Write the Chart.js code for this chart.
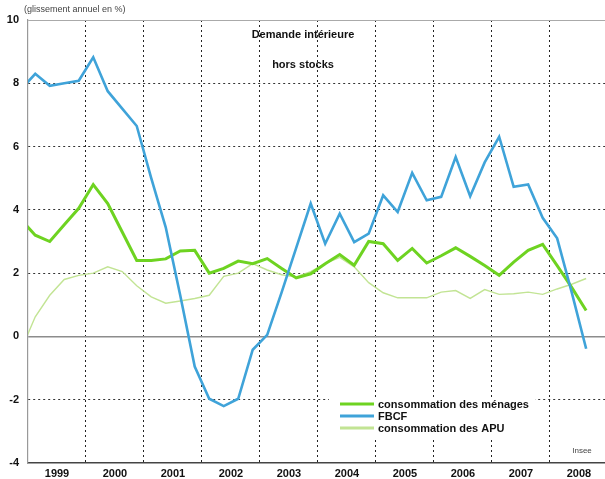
<!DOCTYPE html>
<html>
<head>
<meta charset="utf-8">
<script src="https://cdn.jsdelivr.net/npm/chart.js"></script>
<style>
  html, body { margin: 0; padding: 0; background: #fff; }
</style>
</head>
<body>
<canvas id="graphique" width="605" height="479"></canvas>
<script>
// libellés des années (axe x)
const annees = ['1999', '2000', '2001', '2002', '2003', '2004', '2005', '2006', '2007', '2008'];

// trimestres de 1998-T4 à 2008-T3
const trimestres = [];
for (let a = 1998; a <= 2008; a++) {
    for (let t = 1; t <= 4; t++) {
        if ((a === 1998 && t < 4) || (a === 2008 && t > 3)) continue;
        trimestres.push(a + '-T' + t);
    }
}

// glissement annuel en %
const menages = [3.7, 3.2, 3.0, 3.53, 4.05, 4.8, 4.2, 3.3, 2.4, 2.4,
    2.45, 2.7, 2.72, 2.0, 2.15, 2.38, 2.3, 2.46, 2.15, 1.85,
    1.98, 2.3, 2.59, 2.25, 3.0, 2.93, 2.4, 2.78, 2.32, 2.55,
    2.8, 2.53, 2.24, 1.93, 2.35, 2.72, 2.91, 2.24, 1.55, 0.82];

const fbcf = [7.8, 8.3, 7.92, 8.0, 8.08, 8.82, 7.75, 7.2, 6.65, 5.0,
    3.45, 1.3, -0.95, -1.97, -2.2, -1.97, -0.42, 0.05, 1.4, 2.8,
    4.2, 2.93, 3.88, 2.98, 3.25, 4.46, 3.93, 5.17, 4.3, 4.41,
    5.67, 4.43, 5.5, 6.31, 4.73, 4.8, 3.75, 3.1, 1.4, -0.39];

const apu = [-0.45, 0.62, 1.3, 1.8, 1.93, 2.0, 2.2, 2.05, 1.6, 1.25,
    1.05, 1.12, 1.2, 1.3, 1.9, 2.0, 2.3, 2.1, 1.95, 1.88,
    2.05, 2.3, 2.5, 2.2, 1.7, 1.38, 1.22, 1.22, 1.22, 1.4,
    1.45, 1.2, 1.48, 1.33, 1.35, 1.4, 1.33, 1.5, 1.65, 1.83];

const POLICE = "'Liberation Sans', Arial, sans-serif";

// milieu du trimestre sur l'axe des années
function positionTrimestre(label) {
    const a = parseInt(label.slice(0, 4), 10);
    const t = parseInt(label.slice(-1), 10);
    return a + (t - 0.5) / 4;
}

function points(serie) {
    return trimestres.map((tr, i) => ({ x: positionTrimestre(tr), y: serie[i] }));
}

// textes : titre, source, légende
const textes = {
    id: 'textes',
    afterDraw(chart) {
        const c = chart.ctx;
        c.save();
        c.textBaseline = 'middle';

        c.fillStyle = '#444';
        c.font = '9px ' + POLICE;
        c.textAlign = 'left';
        c.fillText('(glissement annuel en %)', 24, 10);

        c.fillStyle = '#111';
        c.font = 'bold 11px ' + POLICE;
        c.textAlign = 'center';
        c.fillText('Demande intérieure', 303, 35);
        c.fillText('hors stocks', 303, 65);

        // légende
        c.fillStyle = '#fff';
        c.fillRect(329, 398, 206, 40);
        const lignesY = [405, 417, 429];
        chart.data.datasets.forEach((ds) => {
            const y = lignesY[ds.rang];
            c.strokeStyle = ds.borderColor;
            c.lineWidth = 3;
            c.beginPath();
            c.moveTo(340, y - 1);
            c.lineTo(374, y - 1);
            c.stroke();
            c.fillStyle = '#111';
            c.font = 'bold 11px ' + POLICE;
            c.textAlign = 'left';
            c.fillText(ds.label, 378, y);
        });

        c.fillStyle = '#444';
        c.font = '8px ' + POLICE;
        c.textAlign = 'center';
        c.fillText('Insee', 582, 451);
        c.restore();
    }
};

const ctx = document.getElementById('graphique').getContext('2d');
const graphique = new Chart(ctx, {
    type: 'line',
    data: {
        datasets: [
            {
                label: 'FBCF',
                rang: 1,
                data: points(fbcf),
                borderColor: '#3fa3d9',
                borderWidth: 2.6,
                order: 1
            },
            {
                label: 'consommation des ménages',
                rang: 0,
                data: points(menages),
                borderColor: '#6ed321',
                borderWidth: 3,
                order: 2
            },
            {
                label: 'consommation des APU',
                rang: 2,
                data: points(apu),
                borderColor: '#c2e494',
                borderWidth: 1.4,
                order: 3
            }
        ]
    },
    options: {
        responsive: false,
        animation: false,
        devicePixelRatio: 1,
        layout: { padding: { top: 20, left: 0, right: 0, bottom: 0 } },
        elements: {
            point: { radius: 0, hoverRadius: 0 },
            line: { tension: 0, fill: false }
        },
        plugins: {
            legend: { display: false },
            tooltip: { enabled: false }
        },
        scales: {
            x: {
                type: 'linear',
                min: 1999,
                max: 2008.95,
                afterFit(scale) { scale.height = 16; },
                afterBuildTicks(scale) {
                    const ticks = [];
                    annees.forEach(a => {
                        ticks.push({ value: +a });
                        ticks.push({ value: +a + 0.5 });
                    });
                    scale.ticks = ticks;
                },
                grid: {
                    drawTicks: false,
                    color: (c) => (c.tick && c.tick.value % 1 === 0 && c.tick.value > 1999) ? '#222' : 'rgba(0,0,0,0)',
                    lineWidth: 1
                },
                border: { display: true, color: '#444', width: 1.5, dash: [2, 3] },
                ticks: {
                    autoSkip: false,
                    maxRotation: 0,
                    padding: 4,
                    color: '#111',
                    font: { family: POLICE, size: 11, weight: 'bold' },
                    callback: (v) => (v % 1 === 0.5) ? String(Math.floor(v)) : ''
                }
            },
            y: {
                min: -4,
                max: 10,
                afterFit(scale) { scale.width = 28; },
                grid: {
                    drawTicks: false,
                    color: (c) => {
                        if (!c.tick) return '#333';
                        if (c.tick.value === 0) return '#8c8c8c';
                        if (c.tick.value === 10) return '#aaa';
                        if (c.tick.value === -4) return 'rgba(0,0,0,0)';
                        return '#333';
                    },
                    lineWidth: (c) => (c.tick && c.tick.value === 0) ? 1.5 : 1
                },
                border: {
                    display: true,
                    color: '#999',
                    width: 1.2,
                    dash: (c) => (c.tick && (c.tick.value === 0 || c.tick.value === 10)) ? [] : [2, 3]
                },
                ticks: {
                    stepSize: 2,
                    padding: 9,
                    color: '#111',
                    font: { family: POLICE, size: 11, weight: 'bold' }
                }
            }
        }
    },
    plugins: [textes]
});
</script>
</body>
</html>
